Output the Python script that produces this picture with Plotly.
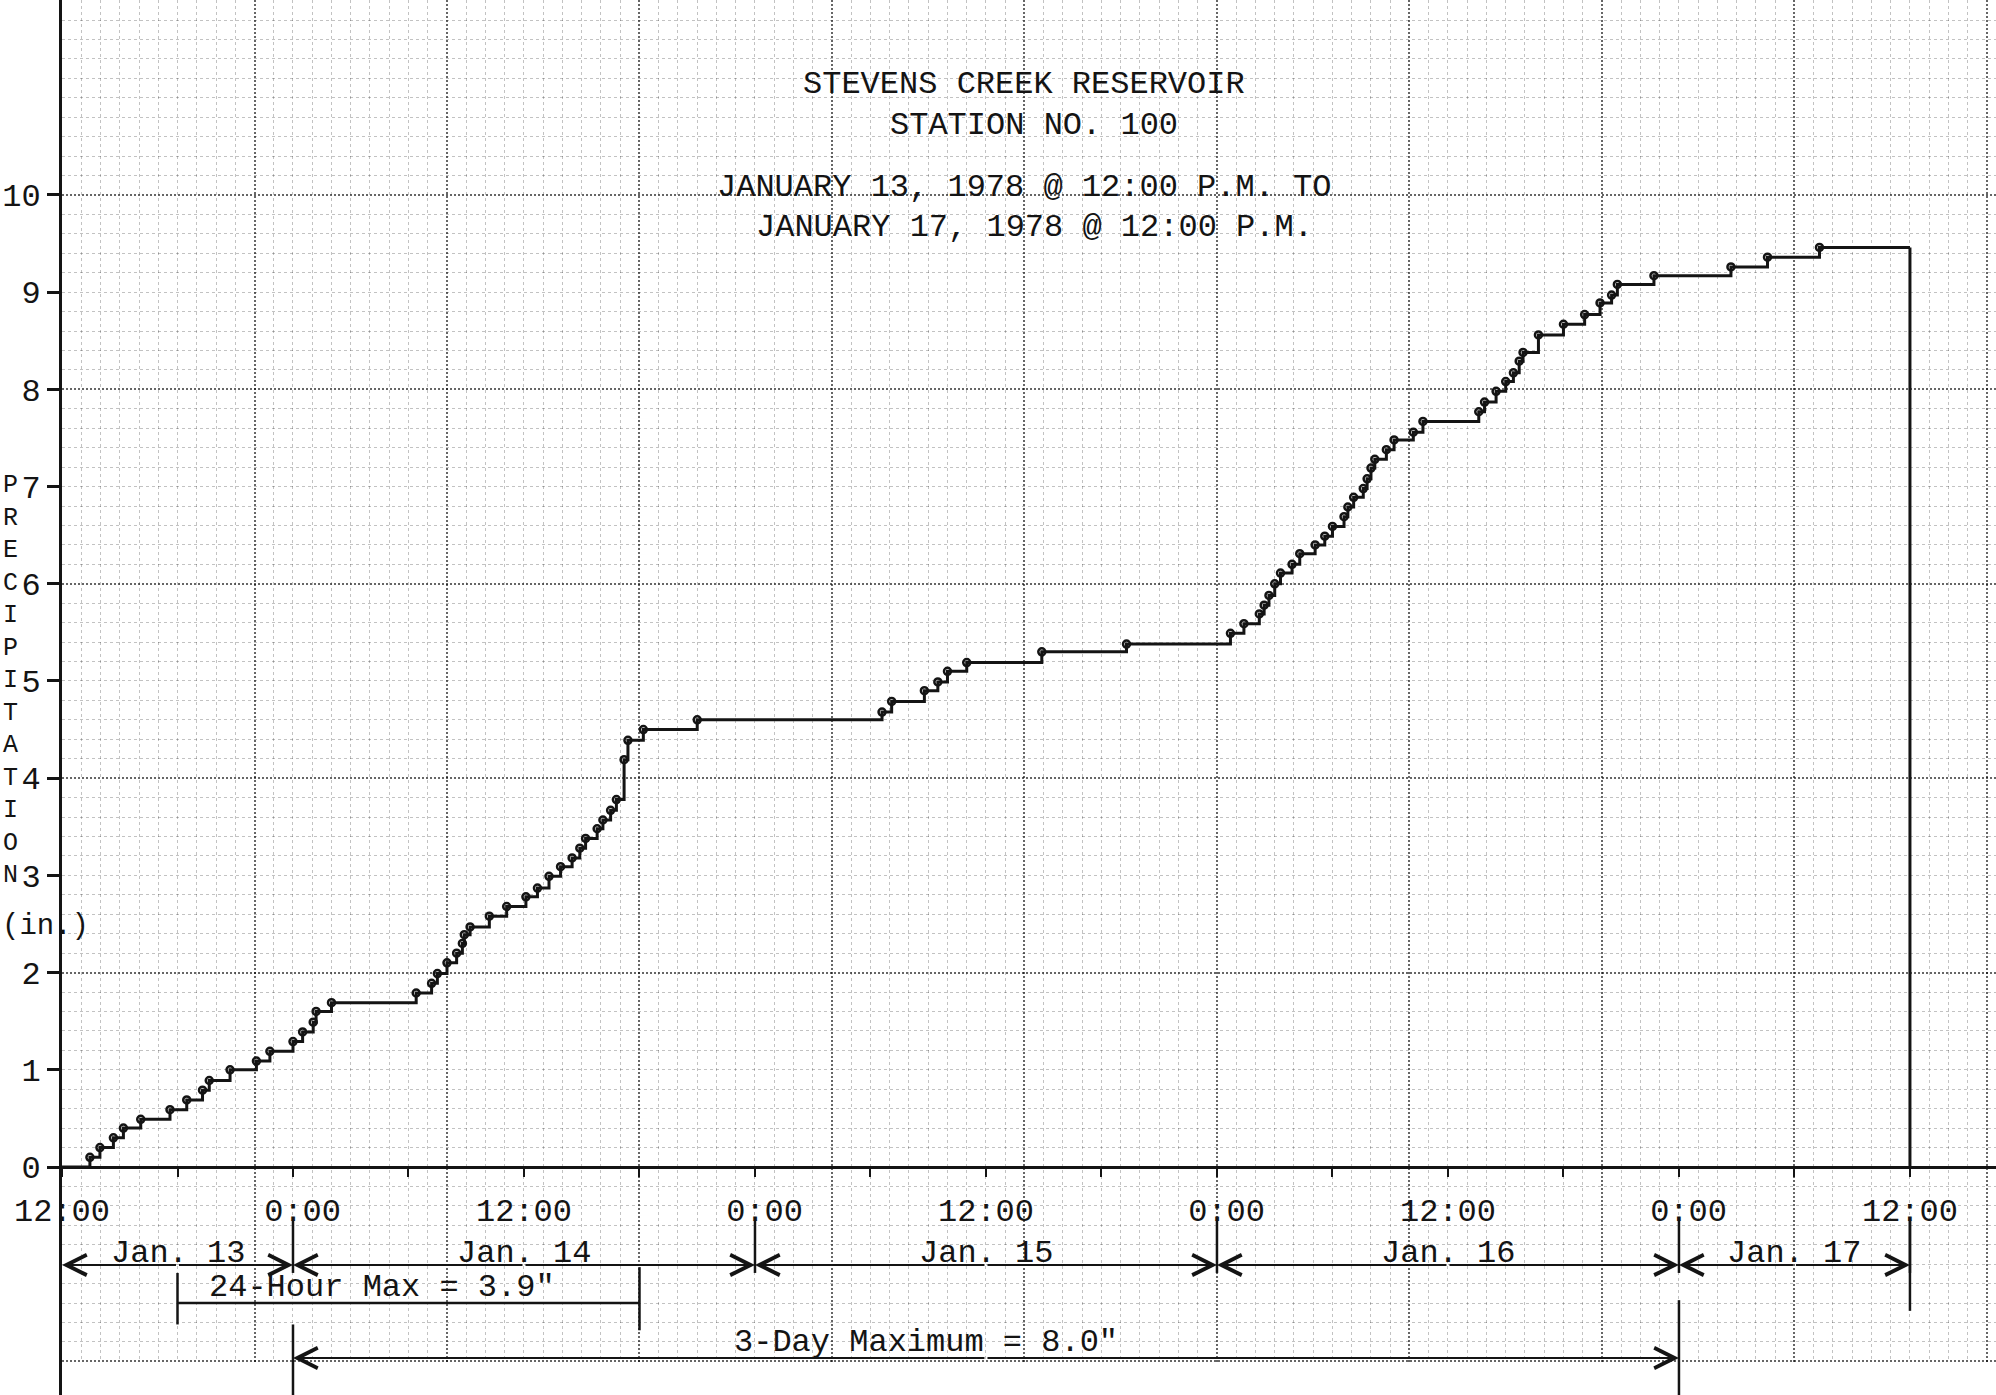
import plotly.graph_objects as go

# Cumulative precipitation, Stevens Creek Reservoir, Station No. 100
# hours counted from 12:00 P.M. Jan 13, 1978; depth in inches
hours = [0.0, 1.45, 1.97, 2.67, 3.19, 4.09, 5.61, 6.48, 7.3, 7.65, 8.73, 10.1, 10.8, 12.0, 12.5, 13.05, 13.2, 14.0,
         18.4, 19.2, 19.5, 20.0, 20.5, 20.8, 20.9, 21.2, 22.2, 23.1, 24.1, 24.7, 25.3, 25.9, 26.5, 26.9, 27.2, 27.8,
         28.1, 28.5, 28.8,
         29.2, 29.4, 30.2, 33.0, 42.6, 43.1, 44.8, 45.5, 46.0, 47.0, 50.9, 55.3, 60.7, 61.4, 62.2, 62.45, 62.7, 63.0,
         63.3, 63.9, 64.3, 65.1, 65.6, 66.0, 66.6, 66.8, 67.1, 67.6, 67.8, 68.0, 68.2, 68.8, 69.2, 70.2, 70.7, 73.6,
         73.9, 74.5, 75.0, 75.4, 75.7, 75.9, 76.7, 78.0, 79.1, 79.9, 80.5, 80.8, 82.7, 86.7, 88.6, 91.3, 96.0]
inches = [0.0, 0.10, 0.20, 0.30, 0.40, 0.49, 0.59, 0.69, 0.79, 0.89, 1.0, 1.09, 1.19, 1.29, 1.39, 1.49, 1.60, 1.69,
          1.79, 1.89, 1.99, 2.10, 2.20, 2.30, 2.39, 2.47, 2.58, 2.68, 2.78, 2.87, 2.99, 3.09, 3.18, 3.28, 3.38, 3.48,
          3.57, 3.67, 3.78,
          4.19, 4.39, 4.50, 4.60, 4.68, 4.79, 4.90, 4.99, 5.10, 5.19, 5.30, 5.38, 5.49, 5.59, 5.69, 5.78, 5.88, 6.0,
          6.11, 6.20, 6.31, 6.40, 6.49, 6.59, 6.69, 6.79, 6.89, 6.98, 7.08, 7.19, 7.28, 7.38, 7.48, 7.56, 7.67, 7.77,
          7.87, 7.98, 8.08, 8.17, 8.29, 8.38, 8.56, 8.67, 8.77, 8.89, 8.97, 9.08, 9.17, 9.26, 9.36, 9.46, 9.46]

# time axis ticks (every 6 h, labelled every 12 h)
tick_hours = [0, 6, 12, 18, 24, 30, 36, 42, 48, 54, 60, 66, 72, 78, 84, 90, 96]
tick_text = ["12:00", "", "\u00a00:00", "", "12:00", "", "\u00a00:00", "", "12:00", "",
             "\u00a00:00", "", "12:00", "", "\u00a00:00", "", "12:00"]
depth_ticks = [0, 1, 2, 3, 4, 5, 6, 7, 8, 9, 10]

# calendar days shown under the time axis
day_names = ["Jan. 13", "Jan. 14", "Jan. 15", "Jan. 16", "Jan. 17"]
day_bounds = [0, 12, 36, 60, 84, 96]

# maximum-rainfall windows
window_24h = [6, 30]
label_24h = '24-Hour Max = 3.9"'
window_3day = [12, 84]
label_3day = '3-Day Maximum = 8.0"'

title_lines = ["STEVENS CREEK RESERVOIR", "STATION NO. 100",
               "JANUARY 13, 1978 @ 12:00 P.M. TO", "JANUARY 17, 1978 @ 12:00 P.M."]
axis_word = "PRECIPITATION"
unit_label = "(in.)"

INK = "#141414"
FONT = dict(family="Courier New, Liberation Mono, monospace", size=32, color=INK)

X_RANGE = [0, 100.47]
Y_RANGE = [-2.3457, 12.006]
LEFT_PX, PLOT_W = 62, 1934


def px_to_paper_x(px):
    return (px - LEFT_PX) / PLOT_W


fig = go.Figure()

# graph-paper grid carried by an overlay axis pair
fig.add_trace(go.Scatter(x=[X_RANGE[0]], y=[Y_RANGE[0]], xaxis="x2", yaxis="y2",
                         mode="markers", marker=dict(opacity=0), hoverinfo="skip", showlegend=False))

# cumulative depth as a step line
fig.add_trace(go.Scatter(x=hours, y=inches, mode="lines", line=dict(shape="hv", color=INK, width=3),
                         hoverinfo="skip", showlegend=False))
fig.add_trace(go.Scatter(x=hours[1:-1], y=inches[1:-1], mode="markers",
                         marker=dict(symbol="circle-open", size=7, color=INK, line=dict(width=2.5, color=INK)),
                         hoverinfo="skip", showlegend=False))
# closing drop at the end of the record
fig.add_trace(go.Scatter(x=[hours[-1], hours[-1]], y=[inches[-1], 0], mode="lines",
                         line=dict(color=INK, width=3), hoverinfo="skip", showlegend=False))

shapes = []
# paper edge below the printed grid
shapes.append(dict(type="rect", xref="x", yref="y", x0=-5, x1=105, y0=Y_RANGE[0] - 1, y1=-2.006,
                   fillcolor="white", line=dict(width=0), layer="above"))


def vline(x, y0, y1, w=2.5):
    shapes.append(dict(type="line", xref="x", yref="y", x0=x, x1=x, y0=y0, y1=y1,
                       line=dict(color=INK, width=w), layer="above"))


def hline(x0, x1, y, w=2.5):
    shapes.append(dict(type="line", xref="x", yref="y", x0=x0, x1=x1, y0=y, y1=y,
                       line=dict(color=INK, width=w), layer="above"))


ROW_DAY = -1.008
ROW_24 = -1.40
ROW_3D = -1.965

# day separators
for b in day_bounds[1:]:
    vline(b, -0.55, -1.09)
vline(day_bounds[-1], -0.55, -1.48)

# 24-hour bracket
hline(window_24h[0], window_24h[1], ROW_24)
vline(window_24h[0], -1.09, -1.62)
vline(window_24h[1], -1.03, -1.68)

# 3-day bracket end bars
vline(window_3day[0], -1.62, -2.40)
vline(window_3day[1], -1.37, -2.40)

annotations = []


def arrow(tip, tail, y):
    annotations.append(dict(x=tip, y=y, ax=tail, ay=y, xref="x", yref="y", axref="x", ayref="y",
                            text="", showarrow=True, arrowhead=5, arrowsize=2, arrowwidth=2,
                            arrowcolor=INK, standoff=0, startstandoff=0))


for i, name in enumerate(day_names):
    a, b = day_bounds[i], day_bounds[i + 1]
    c = (a + b) / 2
    arrow(a, c, ROW_DAY)
    arrow(b, c, ROW_DAY)
    annotations.append(dict(x=c, y=-0.885, xref="x", yref="y", text=name, showarrow=False, font=FONT))

annotations.append(dict(x=16.6, y=-1.235, xref="x", yref="y", text=label_24h, showarrow=False, font=FONT))

c3 = (window_3day[0] + window_3day[1]) / 2
arrow(window_3day[0], c3, ROW_3D)
arrow(window_3day[1], c3, ROW_3D)
annotations.append(dict(x=44.9, y=-1.81, xref="x", yref="y", text=label_3day, showarrow=False, font=FONT))

# title block
for txt, hx, vy in zip(title_lines, [50.0, 50.5, 50.0, 50.5], [11.14, 10.72, 10.08, 9.67]):
    annotations.append(dict(x=hx, y=vy, xref="x", yref="y", text=txt, showarrow=False, font=FONT))

# axis title, typed letter-by-letter down the left margin
annotations.append(dict(x=px_to_paper_x(10), y=5.0, xref="paper", yref="y",
                        text="<br>".join(axis_word), showarrow=False, xanchor="center", yanchor="middle",
                        font=dict(family=FONT["family"], size=25, color=INK)))
annotations.append(dict(x=px_to_paper_x(45), y=2.47, xref="paper", yref="y", text=unit_label,
                        showarrow=False, xanchor="center",
                        font=dict(family=FONT["family"], size=29, color=INK)))

fig.update_layout(
    width=1996, height=1395,
    margin=dict(l=LEFT_PX, r=0, t=0, b=0),
    paper_bgcolor="white", plot_bgcolor="white",
    showlegend=False,
    shapes=shapes, annotations=annotations,
    xaxis=dict(range=X_RANGE, domain=[0, 1], anchor="free", position=0.16344,
               tickmode="array", tickvals=tick_hours, ticktext=tick_text,
               ticks="outside", ticklen=8, tickwidth=2, tickcolor=INK,
               ticklabelstandoff=6, tickfont=FONT,
               showline=True, linecolor=INK, linewidth=3, showgrid=False, zeroline=False),
    yaxis=dict(range=Y_RANGE, domain=[0, 1], anchor="x",
               tickmode="array", tickvals=depth_ticks,
               ticks="outside", ticklen=12, tickwidth=3, tickcolor=INK, tickfont=FONT,
               showline=True, linecolor=INK, linewidth=3, showgrid=False, zeroline=False),
    xaxis2=dict(range=X_RANGE, overlaying="x", anchor="y2", showticklabels=False, ticks="",
                showline=False, zeroline=False,
                tick0=0, dtick=10, showgrid=True, gridcolor="rgba(0,0,0,0.6)", gridwidth=2, griddash="2px,2px",
                minor=dict(tick0=0, dtick=1, showgrid=True, gridcolor="rgba(0,0,0,0.24)", gridwidth=1,
                           griddash="3px,3px")),
    yaxis2=dict(range=Y_RANGE, overlaying="y", anchor="x2", showticklabels=False, ticks="",
                showline=False, zeroline=False,
                tick0=0, dtick=2, showgrid=True, gridcolor="rgba(0,0,0,0.6)", gridwidth=2, griddash="2px,2px",
                minor=dict(tick0=0, dtick=0.2, showgrid=True, gridcolor="rgba(0,0,0,0.24)", gridwidth=1,
                           griddash="3px,3px")),
)

fig.write_html("out.html")
